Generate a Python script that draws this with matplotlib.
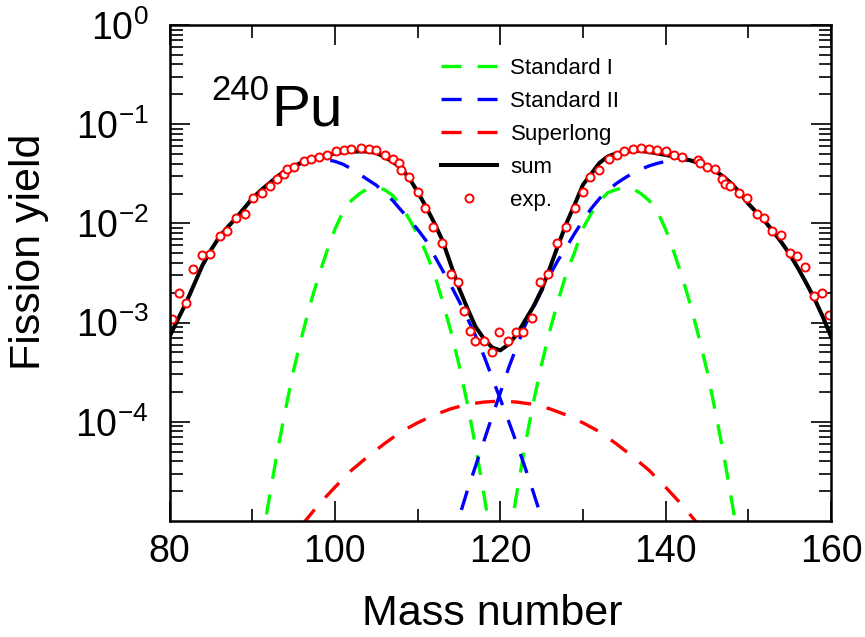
import matplotlib
matplotlib.use("Agg")
import matplotlib.pyplot as plt
import numpy as np

plt.rcParams['font.family'] = ['Liberation Sans', 'DejaVu Sans']
plt.rcParams['mathtext.fontset'] = 'custom'
plt.rcParams['mathtext.rm'] = 'Liberation Sans'
plt.rcParams['mathtext.it'] = 'Liberation Sans:italic'
plt.rcParams['mathtext.bf'] = 'Liberation Sans:bold'
plt.rcParams['lines.scale_dashes'] = False

# ---------------- data ----------------
# Standard I (light / heavy fragment)
std1_light_A = [91, 92, 93, 94, 95, 96, 97, 98, 99, 100, 101, 102, 103, 104, 105,
                106, 107, 108, 109, 110, 111, 112, 113, 114, 115, 116, 117, 118, 119]
std1_light_Y = [5.1e-6, 1.58e-5, 4.79e-5, 1.29e-4, 3.3e-4, 7.24e-4, 1.51e-3, 2.88e-3, 5.13e-3,
                8.71e-3, 1.32e-2, 1.70e-2, 2.00e-2, 2.24e-2, 2.29e-2, 2.19e-2, 1.91e-2, 1.51e-2,
                1.10e-2, 7.76e-3, 5.13e-3, 3.16e-3, 1.66e-3, 8.32e-4, 3.80e-4, 1.55e-4, 5.75e-5,
                1.91e-5, 5.9e-6]
std1_heavy_A = [121, 122, 123, 124, 125, 126, 127, 128, 129, 130, 131, 132, 133, 134, 135,
                136, 137, 138, 139, 140, 141, 142, 143, 144, 145, 146, 147, 148, 149]
std1_heavy_Y = [5.9e-6, 1.91e-5, 5.75e-5, 1.55e-4, 3.80e-4, 8.32e-4, 1.66e-3, 3.16e-3, 5.13e-3,
                8.91e-3, 1.26e-2, 1.66e-2, 2.04e-2, 2.19e-2, 2.29e-2, 2.24e-2, 2.00e-2, 1.70e-2,
                1.32e-2, 8.71e-3, 5.13e-3, 2.88e-3, 1.51e-3, 7.24e-4, 3.3e-4, 1.29e-4, 4.79e-5,
                1.58e-5, 5.1e-6]

# Standard II (light / heavy fragment)
std2_light_A = list(range(80, 127))
std2_light_Y = [7.2e-4, 1.07e-3, 1.58e-3, 2.45e-3, 3.80e-3, 5.37e-3, 7.24e-3, 9.12e-3, 1.12e-2,
                1.41e-2, 1.78e-2, 2.14e-2, 2.51e-2, 2.95e-2, 3.39e-2, 3.72e-2, 4.05e-2, 4.31e-2,
                4.45e-2, 4.40e-2, 4.22e-2, 3.94e-2, 3.55e-2, 3.13e-2, 2.75e-2, 2.43e-2, 2.04e-2,
                1.70e-2, 1.36e-2, 1.10e-2, 8.71e-3, 6.76e-3, 4.79e-3, 3.39e-3, 2.40e-3, 1.66e-3,
                1.12e-3, 7.41e-4, 4.68e-4, 2.82e-4, 1.70e-4, 1.02e-4, 6.03e-5, 3.47e-5, 1.95e-5,
                1.07e-5, 5.8e-6]
std2_heavy_A = list(range(114, 161))
std2_heavy_Y = [5.8e-6, 1.07e-5, 2.0e-5, 3.55e-5, 6.31e-5, 1.12e-4, 1.95e-4, 3.47e-4, 5.75e-4,
                9.33e-4, 1.41e-3, 2.09e-3, 3.02e-3, 4.27e-3, 5.75e-3, 7.94e-3, 1.07e-2, 1.41e-2,
                1.78e-2, 2.14e-2, 2.51e-2, 2.85e-2, 3.20e-2, 3.51e-2, 3.80e-2, 4.03e-2, 4.22e-2,
                4.32e-2, 4.37e-2, 4.32e-2, 4.03e-2, 3.72e-2, 3.39e-2, 2.95e-2, 2.51e-2, 2.02e-2,
                1.58e-2, 1.29e-2, 1.05e-2, 8.32e-3, 6.46e-3, 4.90e-3, 3.55e-3, 2.51e-3, 1.74e-3,
                1.15e-3, 7.24e-4]

# Superlong
sl_A = [96, 98, 100, 102, 104, 106, 108, 110, 112, 114, 116, 118, 120,
        122, 124, 126, 128, 130, 132, 134, 136, 138, 140, 142, 144]
sl_Y = [9.1e-6, 1.45e-5, 2.19e-5, 3.24e-5, 4.47e-5, 6.03e-5, 7.94e-5, 9.77e-5, 1.17e-4,
        1.35e-4, 1.50e-4, 1.58e-4, 1.62e-4, 1.58e-4, 1.50e-4, 1.35e-4, 1.17e-4, 9.77e-5,
        7.94e-5, 6.03e-5, 4.47e-5, 3.24e-5, 2.19e-5, 1.45e-5, 9.1e-6]

# sum
sum_A = list(range(80, 161))
sum_Y = [7.24e-4, 1.07e-3, 1.58e-3, 2.45e-3, 3.80e-3, 5.37e-3, 7.24e-3, 9.12e-3, 1.12e-2,
         1.41e-2, 1.78e-2, 2.14e-2, 2.51e-2, 2.95e-2, 3.39e-2, 3.76e-2, 4.12e-2, 4.42e-2,
         4.68e-2, 4.90e-2, 5.07e-2, 5.19e-2, 5.27e-2, 5.32e-2, 5.31e-2, 5.13e-2, 4.68e-2,
         4.17e-2, 3.63e-2, 2.85e-2, 2.09e-2, 1.48e-2, 1.02e-2, 6.76e-3, 3.89e-3, 2.24e-3,
         1.41e-3, 9.12e-4, 6.92e-4, 5.62e-4, 5.25e-4, 6.03e-4, 7.59e-4, 1.05e-3, 1.45e-3,
         2.14e-3, 3.55e-3, 6.03e-3, 1.00e-2, 1.55e-2, 2.45e-2, 3.16e-2, 4.07e-2, 4.73e-2,
         5.07e-2, 5.25e-2, 5.35e-2, 5.37e-2, 5.25e-2, 5.07e-2, 4.90e-2, 4.71e-2, 4.52e-2,
         4.32e-2, 4.07e-2, 3.76e-2, 3.39e-2, 2.95e-2, 2.51e-2, 2.02e-2, 1.58e-2, 1.29e-2,
         1.05e-2, 8.32e-3, 6.46e-3, 4.90e-3, 3.55e-3, 2.51e-3, 1.74e-3, 1.15e-3, 7.24e-4]

# experimental points
exp_A = [80.3, 81.1, 82.0, 82.9, 83.9, 84.9, 86.1, 86.9, 88.0, 89.1, 90.1, 91.15, 92.1, 93.0,
         93.8, 94.2, 95.1, 96.3, 97.1, 98.1, 99.1, 100.1, 101.1, 102.0, 103.1, 104.1, 105.0,
         106.1, 107.0, 107.7, 108.0, 109.0, 110.0, 110.9, 111.9, 113.0, 114.0, 114.9, 115.6,
         116.3, 116.9, 118.0, 119.0, 119.9, 120.9, 121.9, 122.8, 123.8, 124.8, 125.8, 126.9,
         127.9, 129.1, 130.0, 130.9, 132.0, 133.1, 134.1, 135.0, 136.0, 137.0, 138.0, 139.0,
         140.0, 141.0, 142.0, 143.9, 144.2, 145.0, 146.0, 146.8, 147.2, 147.8, 148.9, 149.9,
         151.0, 151.9, 152.9, 153.9, 155.0, 155.9, 156.85, 157.9, 158.9, 159.8]
exp_Y = [1.08e-3, 2.0e-3, 1.56e-3, 3.5e-3, 4.8e-3, 4.9e-3, 7.5e-3, 8.3e-3, 1.135e-2, 1.235e-2,
         1.80e-2, 2.02e-2, 2.37e-2, 2.82e-2, 3.17e-2, 3.53e-2, 3.70e-2, 4.23e-2, 4.43e-2,
         4.68e-2, 4.93e-2, 5.40e-2, 5.46e-2, 5.59e-2, 5.71e-2, 5.59e-2, 5.50e-2, 4.93e-2,
         4.46e-2, 4.10e-2, 3.47e-2, 2.92e-2, 2.07e-2, 1.44e-2, 9.2e-3, 6.3e-3, 3.07e-3,
         2.58e-3, 1.31e-3, 8.2e-4, 6.6e-4, 6.6e-4, 5.0e-4, 8.1e-4, 6.5e-4, 8.1e-4, 8.1e-4,
         1.12e-3, 2.55e-3, 3.07e-3, 6.4e-3, 9.1e-3, 1.44e-2, 2.09e-2, 2.92e-2, 3.45e-2,
         4.43e-2, 4.93e-2, 5.40e-2, 5.59e-2, 5.75e-2, 5.59e-2, 5.46e-2, 5.37e-2, 4.93e-2,
         4.71e-2, 4.31e-2, 4.03e-2, 3.71e-2, 3.51e-2, 2.82e-2, 2.51e-2, 2.37e-2, 2.01e-2,
         1.80e-2, 1.25e-2, 1.135e-2, 8.3e-3, 7.6e-3, 5.0e-3, 4.7e-3, 3.6e-3, 1.84e-3,
         2.0e-3, 1.19e-3]

x_ticks = [80, 100, 120, 140, 160]
y_ticks = [1e-4, 1e-3, 1e-2, 1e-1, 1e0]
y_ticklabels = [r'$\mathregular{10^{-4}}$', r'$\mathregular{10^{-3}}$',
                r'$\mathregular{10^{-2}}$', r'$\mathregular{10^{-1}}$',
                r'$\mathregular{10^{0}}$']

# ---------------- figure ----------------
W, H = 865, 637
fig = plt.figure(figsize=(W / 100, H / 100), dpi=100)
ax = fig.add_axes([169.5 / W, 1 - 521 / H, 661.5 / W, 496 / H])

dash = (14.5, 11.5)
lw_d = 2.4
ax.plot(std1_light_A, std1_light_Y, color='#00ff00', lw=lw_d, dashes=dash, label='Standard I')
ax.plot(std1_heavy_A, std1_heavy_Y, color='#00ff00', lw=lw_d, dashes=dash)
ax.plot(std2_light_A, std2_light_Y, color='#0000ff', lw=lw_d, dashes=dash, label='Standard II')
ax.plot(std2_heavy_A, std2_heavy_Y, color='#0000ff', lw=lw_d, dashes=dash)
ax.plot(sl_A, sl_Y, color='#ff0000', lw=lw_d, dashes=dash, label='Superlong')
ax.plot(sum_A, sum_Y, color='black', lw=2.9, label='sum')
ax.plot(exp_A, exp_Y, linestyle='none', marker='o', ms=5.8, mfc='white', mec='red',
        mew=1.4, label='exp.')

ax.set_yscale('log')
ax.set_xlim(80, 160)
ax.set_ylim(1.0e-5, 1.0)

ax.set_xticks(x_ticks)
ax.set_xticks([90, 110, 130, 150], minor=True)
ax.set_yticks(y_ticks)
ax.set_yticklabels(y_ticklabels)
ax.yaxis.set_minor_locator(matplotlib.ticker.LogLocator(base=10, subs=np.arange(2, 10)))
ax.yaxis.set_minor_formatter(matplotlib.ticker.NullFormatter())

ax.tick_params(which='both', direction='in', top=True, right=True, width=1.2)
ax.tick_params(which='major', length=14.5)
ax.tick_params(which='minor', length=9)
ax.tick_params(axis='x', which='major', labelsize=27, pad=9)
ax.tick_params(axis='y', which='major', labelsize=27, pad=15)
for s in ax.spines.values():
    s.set_linewidth(1.8)

fig.text(492 / W, 1 - 625 / H, 'Mass number', fontsize=31, ha='center', va='baseline')
fig.text(29 / W, 1 - 252 / H, 'Fission yield', fontsize=31, ha='center', va='center',
         rotation=90)

fig.text(211 / W, 1 - 100 / H, '240', fontsize=25, ha='left', va='baseline')
fig.text(271 / W, 1 - 125 / H, 'Pu', fontsize=42, ha='left', va='baseline')

leg = ax.legend(loc='upper left', bbox_to_anchor=(0.411, 0.933), frameon=False,
                fontsize=16, handlelength=2.52, handletextpad=0.59, labelspacing=0.54,
                borderpad=0, borderaxespad=0)

fig.savefig('out.png', dpi=100)
